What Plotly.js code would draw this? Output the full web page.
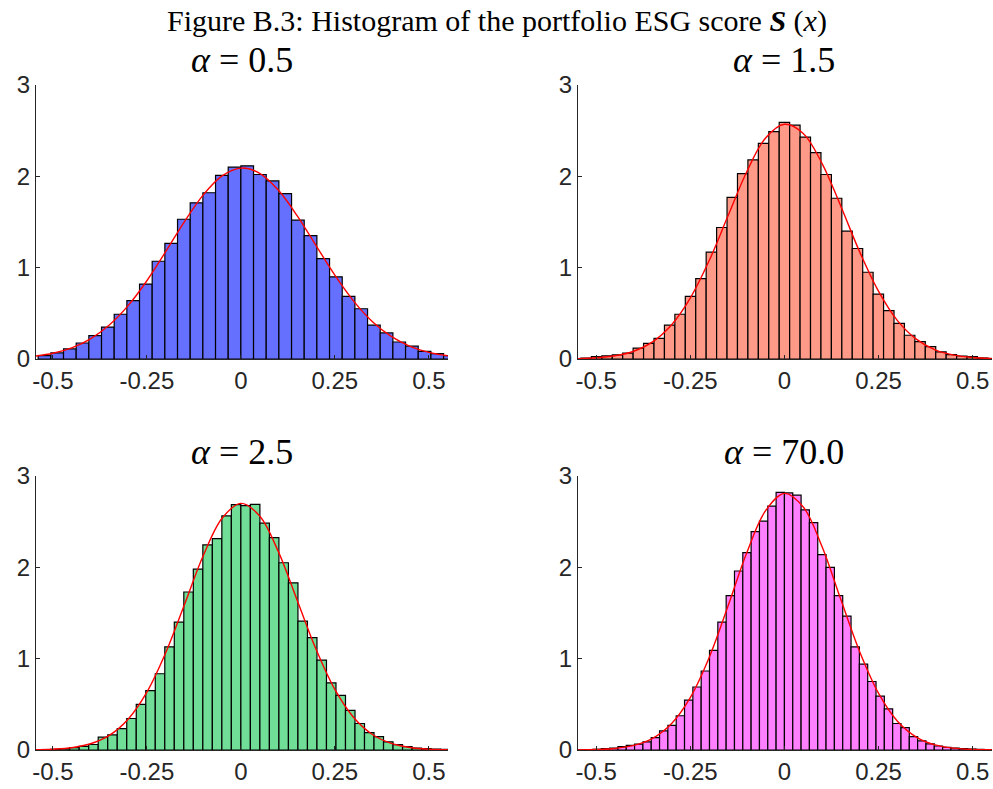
<!DOCTYPE html>
<html>
<head>
<meta charset="utf-8">
<script src="https://cdn.plot.ly/plotly-3.0.1.min.js"></script>
<style>html,body{margin:0;padding:0;background:#fff;}#chart{width:993px;height:789px;}</style>
</head>
<body>
<div id="chart"></div>
<script>
// ---------- data ----------
const xTickVals = [-0.5, -0.25, 0, 0.25, 0.5];
const xTickText = ["-0.5", "-0.25", "0", "0.25", "0.5"];
const yTickVals = [0, 1, 2, 3];
const yTickText = ["0", "1", "2", "3"];

const panelTitles = ["0.5", "1.5", "2.5", "70.0"];

// histogram bins: width and index of first bin, bin k spans [k*w, (k+1)*w] (or centred on k*w)
const binWidth1 = 0.0337, firstBin1 = -16;
const heights1 = [0.036,0.066,0.11,0.175,0.255,0.35,0.49,0.64,0.82,1.07,1.265,1.53,1.71,1.82,2.01,2.10,
                  2.115,2.02,1.95,1.81,1.52,1.35,1.10,0.90,0.685,0.55,0.37,0.285,0.186,0.14,0.084,0.058,0.036];

const binWidth2 = 0.0277, firstBin2 = -20; // bins centred on k*w
const heights2 = [0.005,0.01,0.025,0.035,0.045,0.065,0.12,0.17,0.225,0.37,0.49,0.685,0.88,1.17,1.44,1.77,2.03,2.18,2.36,2.49,
                  2.59,2.56,2.43,2.26,2.02,1.76,1.40,1.21,0.95,0.71,0.53,0.39,0.26,0.19,0.135,0.077,0.047,0.033,0.025,0.011,0.004];

const binWidth3 = 0.0253, firstBin3 = -22;
const heights3 = [0.003,0.005,0.008,0.015,0.025,0.04,0.06,0.14,0.165,0.235,0.345,0.50,0.65,0.835,1.13,1.40,1.73,1.98,2.245,2.315,2.563,2.687,
                  2.676,2.69,2.483,2.326,2.05,1.83,1.41,1.23,0.985,0.736,0.598,0.434,0.29,0.19,0.146,0.09,0.058,0.036,0.022,0.015,0.01,0.007];

const binWidth4 = 0.0221, firstBin4 = -25;
const heights4 = [0.002,0.004,0.008,0.015,0.022,0.036,0.05,0.065,0.09,0.135,0.21,0.27,0.375,0.545,0.69,0.865,1.09,1.40,1.69,1.96,2.16,2.39,2.505,2.67,2.82,
                  2.815,2.79,2.63,2.49,2.14,2.0,1.69,1.465,1.13,0.94,0.75,0.59,0.45,0.29,0.244,0.146,0.10,0.066,0.044,0.03,0.022,0.015,0.011,0.007,0.004];

// fitted density curves (red), read at these x positions
const curveX = [-0.55,-0.5,-0.45,-0.4,-0.35,-0.3,-0.25,-0.2,-0.15,-0.1,-0.05,0,0.05,0.1,0.15,0.2,0.25,0.3,0.35,0.4,0.45,0.5,0.55];
const curve1 = [0.031,0.063,0.122,0.221,0.372,0.584,0.857,1.175,1.504,1.797,2.005,2.09,2.033,1.847,1.567,1.241,0.918,0.634,0.409,0.247,0.139,0.073,0.036];
const curve2 = [0.004,0.013,0.035,0.085,0.187,0.372,0.667,1.075,1.565,2.05,2.42,2.57,2.47,2.14,1.67,1.17,0.74,0.42,0.217,0.10,0.042,0.016,0.005];
const curve3 = [0.003,0.009,0.025,0.068,0.16,0.337,0.633,1.064,1.593,2.129,2.538,2.70,2.562,2.169,1.638,1.103,0.663,0.356,0.17,0.073,0.028,0.009,0.003];
const curve4 = [0.0014,0.005,0.017,0.05,0.128,0.288,0.574,1.011,1.573,2.16,2.62,2.81,2.66,2.225,1.644,1.074,0.62,0.315,0.142,0.056,0.02,0.006,0.002];

// ---------- build ----------
const W = 993, H = 789;
const colors = ["#6670ff", "#ff9a88", "#70de96", "#ff80ff"];
const axisColor = "#262626";

function centres(first, w, n, centred) {
  const out = [];
  for (let i = 0; i < n; i++) {
    const k = first + i;
    out.push(centred ? k * w : (k + 0.5) * w);
  }
  return out;
}

const panels = [
  {h: heights1, w: binWidth1, f: firstBin1, c: false, curve: curve1},
  {h: heights2, w: binWidth2, f: firstBin2, c: true,  curve: curve2},
  {h: heights3, w: binWidth3, f: firstBin3, c: false, curve: curve3},
  {h: heights4, w: binWidth4, f: firstBin4, c: false, curve: curve4}
];

const traces = [];
panels.forEach((p, i) => {
  const xa = i === 0 ? "x" : "x" + (i + 1);
  const ya = i === 0 ? "y" : "y" + (i + 1);
  traces.push({
    type: "bar", x: centres(p.f, p.w, p.h.length, p.c), y: p.h, width: p.w,
    xaxis: xa, yaxis: ya,
    marker: {color: colors[i], line: {color: "#000000", width: 1.2}},
    showlegend: false, hoverinfo: "skip"
  });
  traces.push({
    type: "scatter", mode: "lines", x: curveX, y: p.curve, xaxis: xa, yaxis: ya,
    line: {color: "#ff0000", width: 1.4, shape: "spline", smoothing: 1.0},
    showlegend: false, hoverinfo: "skip", cliponaxis: true
  });
});

const tickFont = {family: "Liberation Sans, Arial, sans-serif", size: 24, color: axisColor};
function xAxis(domain, anchor, range) {
  return {domain: domain, anchor: anchor, range: range, tickvals: xTickVals, ticktext: xTickText,
    ticks: "inside", ticklen: 4, tickwidth: 1, tickcolor: axisColor, showline: true, linecolor: axisColor, linewidth: 1,
    showgrid: false, zeroline: false, tickfont: tickFont, fixedrange: true};
}
function yAxis(domain, anchor) {
  return {domain: domain, anchor: anchor, range: [0, 3], tickvals: yTickVals, ticktext: yTickText,
    ticks: "inside", ticklen: 4, tickwidth: 1, tickcolor: axisColor, showline: true, linecolor: axisColor, linewidth: 1,
    showgrid: false, zeroline: false, tickfont: tickFont, fixedrange: true};
}

const dxL = [36 / W, 448 / W], dxR = [578 / W, 992 / W];
const dyT = [1 - 359 / H, 1 - 85 / H], dyB = [1 - 750 / H, 1 - 476 / H];
const rL = [-0.545, 0.551], rR = [-0.548, 0.551];

const titleFont = {family: "Liberation Serif, Times New Roman, serif", size: 36, color: "#000"};
const annotations = [
  {text: "Figure B.3: Histogram of the portfolio ESG score <b><i>S</i></b> (<i>x</i>)", x: 0.5, y: 1 - 21 / H,
   xref: "paper", yref: "paper", xanchor: "center", yanchor: "middle", showarrow: false,
   font: {family: "Liberation Serif, Times New Roman, serif", size: 30, color: "#000"}},
];
const titlePos = [[242, 60], [784, 60], [242, 452], [784, 452]];
panelTitles.forEach((t, i) => {
  annotations.push({text: "<i>α</i> = " + t, x: titlePos[i][0] / W, y: 1 - titlePos[i][1] / H,
    xref: "paper", yref: "paper", xanchor: "center", yanchor: "middle", showarrow: false, font: titleFont});
});

const layout = {
  width: W, height: H, margin: {l: 0, r: 0, t: 0, b: 0},
  paper_bgcolor: "#ffffff", plot_bgcolor: "rgba(0,0,0,0)",
  bargap: 0, barmode: "overlay",
  xaxis: xAxis(dxL, "y", rL), yaxis: yAxis(dyT, "x"),
  xaxis2: xAxis(dxR, "y2", rR), yaxis2: yAxis(dyT, "x2"),
  xaxis3: xAxis(dxL, "y3", rL), yaxis3: yAxis(dyB, "x3"),
  xaxis4: xAxis(dxR, "y4", rR), yaxis4: yAxis(dyB, "x4"),
  annotations: annotations
};

Plotly.newPlot("chart", traces, layout, {displayModeBar: false, staticPlot: true});
</script>
</body>
</html>
